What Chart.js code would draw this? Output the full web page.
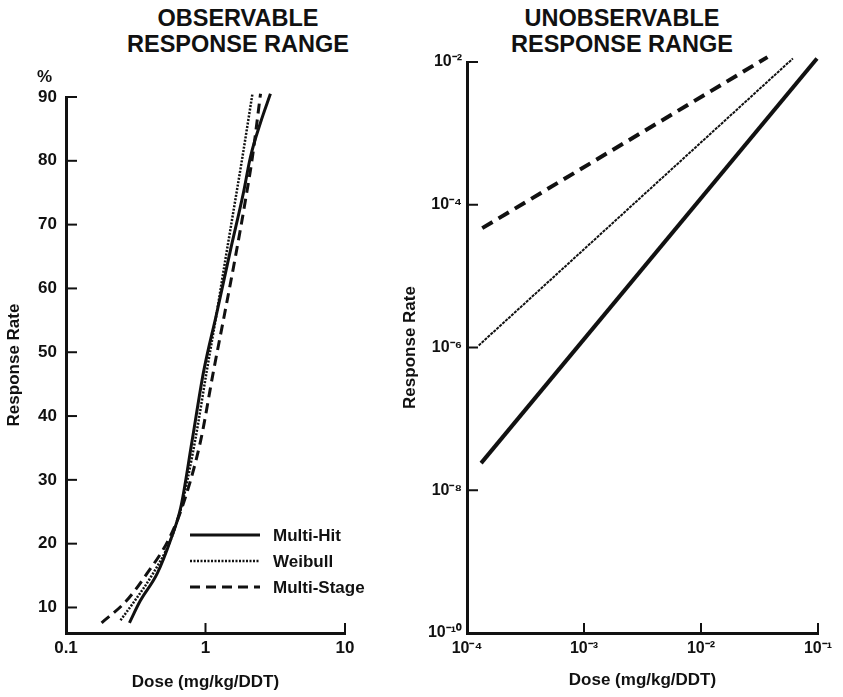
<!DOCTYPE html>
<html>
<head>
<meta charset="utf-8">
<script src="https://cdn.jsdelivr.net/npm/chart.js@4.4.1/dist/chart.umd.min.js"></script>
<style>
  body { margin: 0; background: #fff; }
  #wrap { position: relative; width: 843px; height: 697px; font-family: "Liberation Sans", Arial, sans-serif; color: #111; }
  .title { position: absolute; top: 5px; width: 320px; text-align: center; font-weight: bold; font-size: 23.5px; line-height: 26px; }
  .pct { position: absolute; left: 37px; top: 67px; font-weight: bold; font-size: 17px; }
  .box { position: absolute; top: 0; }
</style>
</head>
<body>
<div id="wrap">
  <div class="title" style="left:78px">OBSERVABLE<br>RESPONSE RANGE</div>
  <div class="title" style="left:462px">UNOBSERVABLE<br>RESPONSE RANGE</div>
  <div class="box" style="left:0;width:400px;height:697px"><canvas id="obsChart" width="400" height="697"></canvas></div>
  <div class="box" style="left:398px;width:445px;height:697px"><canvas id="unobsChart" width="445" height="697"></canvas></div>
  <div class="pct">%</div>
</div>
<script>
// Data - observable range (dose in mg/kg, response in %)
const seriesNames = ["Multi-Hit", "Weibull", "Multi-Stage"];

const multiHitObsDose = [0.285, 0.34, 0.45, 0.56, 0.665, 0.8, 0.97, 1.2, 1.51, 1.87, 2.1, 2.48, 2.92];
const multiHitObsRate = [7.6, 11, 15.3, 20.5, 25.7, 36, 47, 56, 66, 75, 80.6, 86, 90.5];

const weibullObsDose = [0.246, 0.31, 0.42, 0.56, 0.67, 0.84, 1.02, 1.2, 1.4, 1.64, 1.84, 2.17];
const weibullObsRate = [8, 11, 15.3, 20.5, 25.7, 36, 47, 56, 65, 74, 80.6, 90.5];

const multiStageObsDose = [0.18, 0.27, 0.38, 0.54, 0.68, 0.92, 1.14, 1.37, 1.64, 1.94, 2.17, 2.48];
const multiStageObsRate = [7.6, 11, 15.3, 20.5, 25.7, 36, 47, 56, 65, 74, 80.6, 90.5];

// Data - unobservable range (log-log straight lines)
const multiHitLowDose = [1.32e-4, 9.8e-2];
const multiHitLowRate = [2.4e-8, 1.12e-2];

const weibullLowDose = [1.26e-4, 6.1e-2];
const weibullLowRate = [1.07e-6, 1.12e-2];

const multiStageLowDose = [1.35e-4, 3.7e-2];
const multiStageLowRate = [4.7e-5, 1.17e-2];

// Tick values
const obsDoseTicks = [0.1, 1, 10];
const obsRateTicks = [10, 20, 30, 40, 50, 60, 70, 80, 90];
const lowDoseTicks = [1e-4, 1e-3, 1e-2, 1e-1];
const lowRateTicks = [1e-10, 1e-8, 1e-6, 1e-4, 1e-2];

const ink = "#111";
const font = "'Liberation Sans', Arial, sans-serif";

// Helpers
const toPoints = (xs, ys) => xs.map((x, i) => ({ x: x, y: ys[i] }));
const fixedTicks = (values) => (scale) => { scale.ticks = values.map(v => ({ value: v })); };

const supDigits = { "-": "\u207B", "0": "\u2070", "1": "\u00B9", "2": "\u00B2", "3": "\u00B3",
  "4": "\u2074", "5": "\u2075", "6": "\u2076", "7": "\u2077", "8": "\u2078", "9": "\u2079" };
const powerLabel = (v) => "10" + String(Math.round(Math.log10(v))).split("").map(c => supDigits[c]).join("");

// Inward tick marks
const innerTicks = {
  id: "innerTicks",
  afterDatasetsDraw(chart) {
    const { ctx, chartArea: a, scales: { x, y } } = chart;
    ctx.save();
    ctx.strokeStyle = ink;
    ctx.lineWidth = 2;
    x.ticks.forEach(t => {
      const px = x.getPixelForValue(t.value);
      ctx.beginPath(); ctx.moveTo(px, a.bottom); ctx.lineTo(px, a.bottom - 10); ctx.stroke();
    });
    y.ticks.forEach(t => {
      const py = y.getPixelForValue(t.value);
      ctx.beginPath(); ctx.moveTo(a.left, py); ctx.lineTo(a.left + 11, py); ctx.stroke();
    });
    ctx.restore();
  }
};

// Legend drawn inside the left plot
const innerLegend = {
  id: "innerLegend",
  afterDatasetsDraw(chart) {
    const { ctx } = chart;
    ctx.save();
    chart.data.datasets.forEach((ds, i) => {
      const y = 535 + i * 26;
      ctx.strokeStyle = ink;
      ctx.lineWidth = ds.borderWidth;
      ctx.setLineDash(ds.borderDash || []);
      ctx.beginPath(); ctx.moveTo(190, y); ctx.lineTo(260, y); ctx.stroke();
      ctx.setLineDash([]);
      ctx.fillStyle = ink;
      ctx.font = "bold 17px " + font;
      ctx.textBaseline = "middle";
      ctx.fillText(ds.label, 273, y + 1);
    });
    ctx.restore();
  }
};

function axisTitle(text, pad) {
  return { display: true, text: text, color: ink, font: { family: font, size: 17, weight: "bold" }, padding: pad };
}

// Observable range chart
new Chart(document.getElementById("obsChart"), {
  type: "line",
  data: {
    datasets: [
      { label: seriesNames[0], data: toPoints(multiHitObsDose, multiHitObsRate), borderColor: ink, borderWidth: 3 },
      { label: seriesNames[1], data: toPoints(weibullObsDose, weibullObsRate), borderColor: ink, borderWidth: 2.5, borderDash: [2, 1.5] },
      { label: seriesNames[2], data: toPoints(multiStageObsDose, multiStageObsRate), borderColor: ink, borderWidth: 3, borderDash: [10, 6] }
    ]
  },
  options: {
    responsive: false,
    animation: false,
    devicePixelRatio: 1,
    clip: false,
    elements: { point: { radius: 0 }, line: { cubicInterpolationMode: "monotone" } },
    layout: { padding: { top: 97, right: 55, bottom: 0, left: 0 } },
    plugins: { legend: { display: false }, tooltip: { enabled: false } },
    scales: {
      x: {
        type: "logarithmic", min: 0.1, max: 10,
        afterBuildTicks: fixedTicks(obsDoseTicks),
        afterFit: (s) => { s.height = 64; },
        grid: { display: false, drawTicks: false },
        border: { display: true, color: ink, width: 3 },
        ticks: { color: ink, padding: 5, maxRotation: 0, font: { family: font, size: 17, weight: "bold" }, callback: (v) => String(v) },
        title: axisTitle("Dose (mg/kg/DDT)", { top: 0, bottom: 4 })
      },
      y: {
        type: "linear", min: 6, max: 90,
        afterBuildTicks: fixedTicks(obsRateTicks),
        afterFit: (s) => { s.width = 66; },
        grid: { display: false, drawTicks: false },
        border: { display: true, color: ink, width: 3 },
        ticks: { color: ink, padding: 9, font: { family: font, size: 17, weight: "bold" } },
        title: axisTitle("Response Rate", { top: 4, bottom: 0 })
      }
    }
  },
  plugins: [innerTicks, innerLegend]
});

// Unobservable range chart
new Chart(document.getElementById("unobsChart"), {
  type: "line",
  data: {
    datasets: [
      { label: seriesNames[0], data: toPoints(multiHitLowDose, multiHitLowRate), borderColor: ink, borderWidth: 4 },
      { label: seriesNames[1], data: toPoints(weibullLowDose, weibullLowRate), borderColor: ink, borderWidth: 2, borderDash: [3, 1] },
      { label: seriesNames[2], data: toPoints(multiStageLowDose, multiStageLowRate), borderColor: ink, borderWidth: 4, borderDash: [12, 7] }
    ]
  },
  options: {
    responsive: false,
    animation: false,
    devicePixelRatio: 1,
    clip: false,
    elements: { point: { radius: 0 } },
    layout: { padding: { top: 62, right: 25, bottom: 0, left: 0 } },
    plugins: { legend: { display: false }, tooltip: { enabled: false } },
    scales: {
      x: {
        type: "logarithmic", min: 1e-4, max: 1e-1,
        afterBuildTicks: fixedTicks(lowDoseTicks),
        afterFit: (s) => { s.height = 64; },
        grid: { display: false, drawTicks: false },
        border: { display: true, color: ink, width: 3 },
        ticks: { color: ink, padding: 6, maxRotation: 0, font: { family: font, size: 16, weight: "bold" }, callback: powerLabel },
        title: axisTitle("Dose (mg/kg/DDT)", { top: 0, bottom: 6 })
      },
      y: {
        type: "logarithmic", min: 1e-10, max: 1e-2,
        afterBuildTicks: fixedTicks(lowRateTicks),
        afterFit: (s) => { s.width = 69; },
        grid: { display: false, drawTicks: false },
        border: { display: true, color: ink, width: 3 },
        ticks: { color: ink, padding: 5, font: { family: font, size: 16, weight: "bold" }, callback: powerLabel },
        title: axisTitle("Response Rate", { top: 2, bottom: 0 })
      }
    }
  },
  plugins: [innerTicks]
});
</script>
</body>
</html>
